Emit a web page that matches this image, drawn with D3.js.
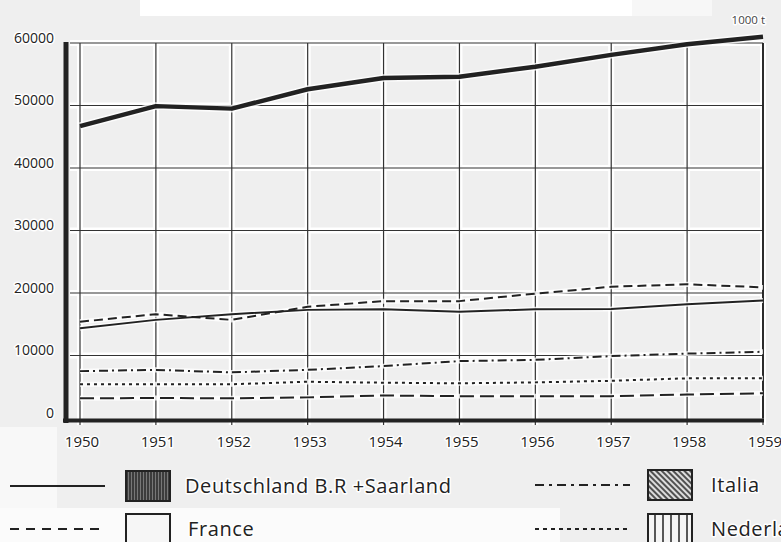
<!DOCTYPE html>
<html>
<head>
<meta charset="utf-8">
<script src="https://cdn.jsdelivr.net/npm/d3@7"></script>
<style>
  body { margin: 0; background: #efefef; }
  svg { display: block; font-family: "Open Sans", "DejaVu Sans", sans-serif; }
  .halo { paint-order: stroke; stroke: #fff; stroke-width: 3px; stroke-linejoin: round; }
</style>
</head>
<body>
<svg id="chart" width="781" height="542"></svg>
<script>
// values in 1000 t
const years = [1950, 1951, 1952, 1953, 1954, 1955, 1956, 1957, 1958, 1959];
const yTicks = [0, 10000, 20000, 30000, 40000, 50000, 60000];
const total = [46700, 49900, 49500, 52600, 54400, 54600, 56200, 58100, 59800, 61000];
const deutschland = [14350, 15700, 16600, 17300, 17400, 17000, 17400, 17450, 18200, 18800];
const france = [15400, 16600, 15700, 17800, 18700, 18700, 19900, 21000, 21400, 20900];
const italia = [7500, 7700, 7300, 7700, 8300, 9100, 9300, 9900, 10300, 10600];
const nederland = [5400, 5400, 5400, 5800, 5650, 5550, 5700, 5950, 6350, 6350];
const belgique = [3150, 3200, 3150, 3300, 3600, 3500, 3500, 3500, 3750, 3950];
const unit = '1000 t';
const legendLabels = ['Deutschland B.R +Saarland', 'France', 'Italia', 'Nederland'];

const ink = '#222';
const svg = d3.select('#chart');

// scan background patches
svg.append('rect').attr('x', 140).attr('y', 0).attr('width', 492).attr('height', 16).attr('fill', '#fff');
svg.append('rect').attr('x', 632).attr('y', 0).attr('width', 80).attr('height', 16).attr('fill', '#f7f7f7');
svg.append('rect').attr('x', 0).attr('y', 427).attr('width', 57).attr('height', 115).attr('fill', '#f8f8f8');
svg.append('rect').attr('x', 0).attr('y', 508).attr('width', 560).attr('height', 34).attr('fill', '#fbfbfb');

// hatch patterns for the legend swatches
const defs = svg.append('defs');
const pv = defs.append('pattern').attr('id', 'vert').attr('patternUnits', 'userSpaceOnUse')
  .attr('width', 3).attr('height', 4);
pv.append('rect').attr('width', 3).attr('height', 4).attr('fill', '#777');
pv.append('line').attr('x1', 1).attr('x2', 1).attr('y1', 0).attr('y2', 4).attr('stroke', '#222').attr('stroke-width', 1.4);

const pd = defs.append('pattern').attr('id', 'diag').attr('patternUnits', 'userSpaceOnUse')
  .attr('width', 4).attr('height', 4).attr('patternTransform', 'rotate(45)');
pd.append('rect').attr('width', 4).attr('height', 4).attr('fill', '#ddd');
pd.append('line').attr('x1', 0).attr('x2', 4).attr('y1', 1).attr('y2', 1).attr('stroke', '#222').attr('stroke-width', 1.5);

const pn = defs.append('pattern').attr('id', 'nl').attr('patternUnits', 'userSpaceOnUse')
  .attr('x', 648).attr('width', 8).attr('height', 4);
pn.append('rect').attr('width', 8).attr('height', 4).attr('fill', '#f4f4f4');
pn.append('line').attr('x1', 7).attr('x2', 7).attr('y1', 0).attr('y2', 4).attr('stroke', '#222').attr('stroke-width', 1.5);

let x = d3.scaleLinear().domain([1950, 1959]).range([80, 763]);
let y = d3.scaleLinear().domain([0, 60000]).range([418, 43]);

// grid, white halo first then the dark rule
const grid = svg.append('g');
[['#fff', 6], ['#333', 1.2]].forEach(([c, w]) => {
  grid.append('g').selectAll('line').data(yTicks.slice(1)).join('line')
    .attr('x1', 70).attr('x2', x(1959)).attr('y1', d => y(d)).attr('y2', d => y(d))
    .attr('stroke', c).attr('stroke-width', w);
  grid.append('g').selectAll('line').data(years).join('line')
    .attr('x1', d => x(d)).attr('x2', d => x(d)).attr('y1', y(60000)).attr('y2', y(0) + 7)
    .attr('stroke', c).attr('stroke-width', w);
});
svg.append('line').attr('x1', x(1959)).attr('x2', x(1959)).attr('y1', y(60000)).attr('y2', y(0))
  .attr('stroke', ink).attr('stroke-width', 1.8);

// series
const series = [
  {v: belgique, w: 2, dash: '14,6'},
  {v: nederland, w: 2, dash: '3,4'},
  {v: italia, w: 2, dash: '9,4,2,4'},
  {v: deutschland, w: 2, dash: null},
  {v: france, w: 2, dash: '9,5'},
  {v: total, w: 4.5, dash: null}
];
let line = d3.line().x((d, i) => x(years[i])).y(d => y(d));
series.forEach(s => {
  svg.append('path').datum(s.v).attr('d', line)
    .attr('fill', 'none').attr('stroke', '#fff').attr('stroke-width', s.w + 3).attr('opacity', 0.8);
});
series.forEach(s => {
  svg.append('path').datum(s.v).attr('d', line)
    .attr('fill', 'none').attr('stroke', ink).attr('stroke-width', s.w)
    .attr('stroke-dasharray', s.dash).attr('stroke-linejoin', 'round');
});

// heavy axes
svg.append('line').attr('x1', 66).attr('x2', 66).attr('y1', 42).attr('y2', 423)
  .attr('stroke', ink).attr('stroke-width', 5);
svg.append('line').attr('x1', 63).attr('x2', x(1959) + 1).attr('y1', 420.5).attr('y2', 420.5)
  .attr('stroke', ink).attr('stroke-width', 4);

// tick labels
svg.append('g').selectAll('text').data(yTicks).join('text').attr('class', 'halo')
  .attr('x', 54).attr('y', d => y(d) - 5).attr('dy', '0.35em')
  .attr('text-anchor', 'end').attr('font-size', 14).attr('fill', ink)
  .text(d => d);
svg.append('g').selectAll('text').data(years).join('text').attr('class', 'halo')
  .attr('x', d => x(d) + 2).attr('y', 442).attr('dy', '0.35em')
  .attr('text-anchor', 'middle').attr('font-size', 15).attr('fill', ink)
  .text(d => d);
svg.append('text').attr('class', 'halo').attr('x', 765).attr('y', 20).attr('dy', '0.35em')
  .attr('text-anchor', 'end').attr('font-size', 11.5).attr('fill', '#444').text(unit);

// legend
const legend = [
  {lx: 10, sx: 126, tx: 185, ly: 486, dash: null, fill: 'url(#vert)'},
  {lx: 10, sx: 126, tx: 188, ly: 529, dash: '9,7', fill: '#f6f6f6'},
  {lx: 535, sx: 648, tx: 711, ly: 485, dash: '9,5,3,5', fill: 'url(#diag)'},
  {lx: 535, sx: 648, tx: 711, ly: 529, dash: '4,4', fill: 'url(#nl)'}
];
legend.forEach((d, i) => {
  const g = svg.append('g');
  g.append('line').attr('x1', d.lx).attr('x2', d.lx + 95).attr('y1', d.ly).attr('y2', d.ly)
    .attr('stroke', ink).attr('stroke-width', 2).attr('stroke-dasharray', d.dash);
  g.append('rect').attr('x', d.sx).attr('y', d.ly - 15).attr('width', 44).attr('height', 30)
    .attr('fill', d.fill).attr('stroke', ink).attr('stroke-width', 2);
  g.append('text').attr('class', 'halo').attr('x', d.tx).attr('y', d.ly).attr('dy', '0.35em')
    .attr('font-size', 20).attr('letter-spacing', 0.6).attr('fill', ink).text(legendLabels[i]);
});
</script>
</body>
</html>
